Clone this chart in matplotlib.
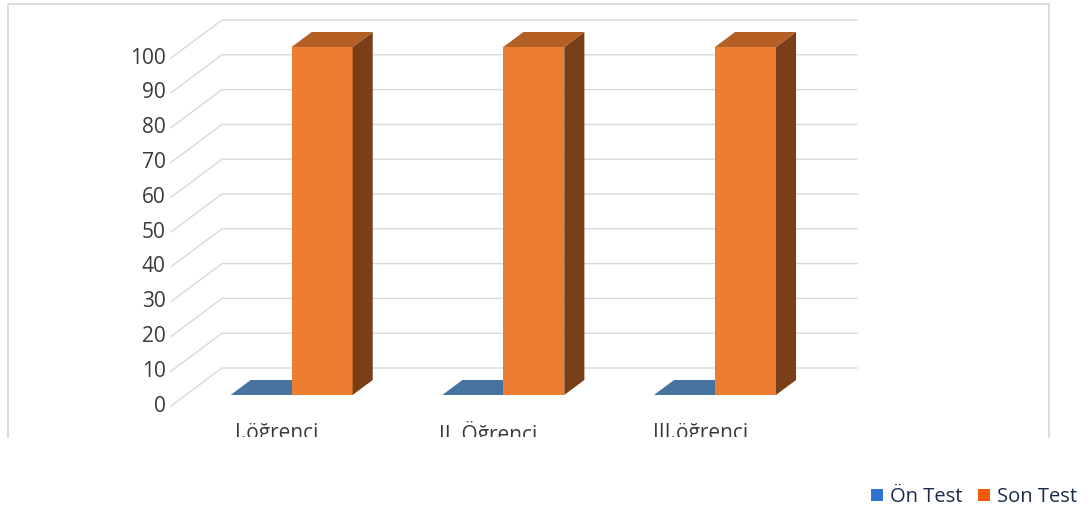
import matplotlib.pyplot as plt
import matplotlib.transforms as mtransforms
from matplotlib.lines import Line2D
from matplotlib.patches import Patch, Polygon

# ---------------------------------------------------------------------------
# Data
# ---------------------------------------------------------------------------
categories = ["I.öğrenci", "II. Öğrenci", "III.öğrenci"]
on_test = [0, 0, 0]
son_test = [100, 100, 100]
series_names = ["Ön Test", "Son Test"]
y_ticks = list(range(0, 101, 10))

# ---------------------------------------------------------------------------
# Style
# ---------------------------------------------------------------------------
plt.rcParams["font.family"] = ["Open Sans", "DejaVu Sans"]

W, H = 1088, 519
GRID = "#D9D9D9"
TEXT = "#3A3A3A"
ON_FACES = ("#4472C4", "#46739F", "#2F4F7A")     # front, top, side
SON_FACES = ("#ED7D31", "#B45F24", "#793F18")
LEGEND_COLORS = ("#2E74CF", "#F05A0C")
FS = 15

fig = plt.figure(figsize=(W / 100, H / 100), dpi=100)

# the axes spans the front edge of the floor and the front of the value range
ax = fig.add_axes([171 / W, (H - 406) / H, 635 / W, 348 / H])
n = len(categories)
ax.set_xlim(0, n)
ax.set_ylim(0, 100)
ax.axis("off")

# oblique depth of the plot box, in data units
DX = 51 / 635 * n
DY = 38 / 348 * 100
D_FRONT, D_BACK = 0.29, 0.684       # bar front/back planes as fraction of depth
BAR_W = 61 / 635 * n


def shift(x, y, d):
    return (x + d * DX, y + d * DY)


def bar3d(x0, x1, h, faces):
    front, top, side = faces
    kw = dict(clip_on=False, lw=0)
    if h > 0:
        ax.add_patch(Polygon([shift(x0, 0, D_FRONT), shift(x1, 0, D_FRONT),
                              shift(x1, h, D_FRONT), shift(x0, h, D_FRONT)],
                             facecolor=front, **kw))
        ax.add_patch(Polygon([shift(x1, 0, D_FRONT), shift(x1, 0, D_BACK),
                              shift(x1, h, D_BACK), shift(x1, h, D_FRONT)],
                             facecolor=side, **kw))
    ax.add_patch(Polygon([shift(x0, h, D_FRONT), shift(x1, h, D_FRONT),
                          shift(x1, h, D_BACK), shift(x0, h, D_BACK)],
                         facecolor=top, **kw))


# back wall gridlines with their diagonal run to the tick labels
for v in y_ticks:
    ax.plot([0, DX, n + DX], [v, v + DY, v + DY], color=GRID, lw=1,
            clip_on=False, zorder=0)
    ax.annotate(str(v), xy=(0, v), xytext=(-4, 0), textcoords="offset points",
                ha="right", va="center", fontsize=FS, color=TEXT)

for i in range(n):
    c = i + 0.5
    bar3d(c - BAR_W, c, on_test[i], ON_FACES)
    bar3d(c, c + BAR_W, son_test[i], SON_FACES)

# chart frame (bottom edge falls outside the picture)
x_l, x_r = 8 / W, 1049 / W
y_t, y_b = 1 - 4 / H, (H - 437) / H
fig.add_artist(Line2D([x_l, x_l, x_r, x_r], [y_b, y_t, y_t, y_b],
                      transform=fig.transFigure, color=GRID, lw=1.3))
frame_clip = mtransforms.TransformedBbox(
    mtransforms.Bbox([[x_l, y_b], [x_r, y_t]]), fig.transFigure)

# category labels, cut by the frame
label_tr = mtransforms.offset_copy(ax.transData, fig=fig, y=-28, units="dots")
for i, name in enumerate(categories):
    fig.text(i + 0.5, 0, name, transform=label_tr, ha="center", va="center",
             fontsize=FS, color=TEXT, clip_on=True, clip_box=frame_clip)

handles = [Patch(facecolor=col, edgecolor="none") for col in LEGEND_COLORS]
fig.legend(handles, series_names, loc="center right",
           bbox_to_anchor=(1077 / W, 1 - 497 / H), ncol=2, frameon=False,
           fontsize=14.5, labelcolor="#1C2B4A", handlelength=0.6,
           handleheight=0.6, handletextpad=0.35, columnspacing=0.75,
           borderpad=0, borderaxespad=0)

fig.savefig("out.png", dpi=100, facecolor="white")
